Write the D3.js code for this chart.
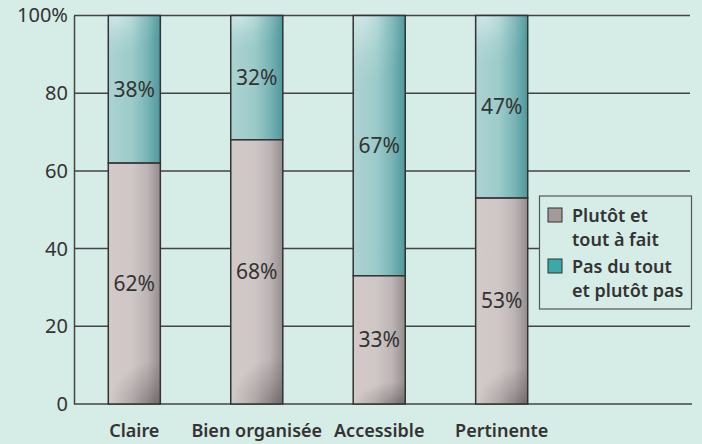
<!DOCTYPE html>
<html>
<head>
<meta charset="utf-8">
<script src="https://cdn.jsdelivr.net/npm/d3@7"></script>
<style>
  html, body { margin: 0; padding: 0; background: #d6ece6; }
  svg { display: block; }
  text { font-family: "Noto Sans", sans-serif; fill: #333; }
</style>
</head>
<body>
<div id="chart"></div>
<script>
// values
const categories = ["Claire", "Bien organisée", "Accessible", "Pertinente"];
const plutot_oui = [62, 68, 33, 53];
const plutot_non = [38, 32, 67, 47];
const y_ticks = [0, 20, 40, 60, 80, 100];
const legend_labels = [["Plutôt et", "tout à fait"], ["Pas du tout", "et plutôt pas"]];

const width = 702, height = 444;
const margin = {top: 15.5, left: 74, right: 12, bottom: 40};

const svg = d3.select("#chart").append("svg")
    .attr("width", width)
    .attr("height", height);

const defs = svg.append("defs");

// horizontal shading of the bars
function hgrad(id, stops) {
    const g = defs.append("linearGradient").attr("id", id)
        .attr("x1", 0).attr("x2", 1).attr("y1", 0).attr("y2", 0);
    stops.forEach(s => g.append("stop").attr("offset", s[0]).attr("stop-color", s[1]));
}
hgrad("grey_h", [[0, "#d3c9c9"], [0.45, "#cfc6c6"], [0.75, "#bdb5b5"], [1, "#958d8d"]]);
hgrad("teal_h", [[0, "#acd3d2"], [0.45, "#9ccbca"], [0.75, "#79b4b5"], [1, "#4e989d"]]);

// shadow in the bottom-right corner of grey bars
const gb = defs.append("radialGradient").attr("id", "grey_v")
    .attr("gradientUnits", "objectBoundingBox")
    .attr("cx", 0.9).attr("cy", 1.02).attr("r", 0.9)
    .attr("gradientTransform", "translate(0.9 1.02) scale(1 0.22) translate(-0.9 -1.02)");
gb.append("stop").attr("offset", 0).attr("stop-color", "#3a3333").attr("stop-opacity", 0.45);
gb.append("stop").attr("offset", 0.5).attr("stop-color", "#3a3333").attr("stop-opacity", 0.2);
gb.append("stop").attr("offset", 1).attr("stop-color", "#3a3333").attr("stop-opacity", 0);

// light in the top-left corner of teal bars
const tt = defs.append("radialGradient").attr("id", "teal_v")
    .attr("gradientUnits", "objectBoundingBox")
    .attr("cx", 0.15).attr("cy", 0).attr("r", 0.9)
    .attr("gradientTransform", "translate(0.15 0) scale(1 0.3) translate(-0.15 0)");
tt.append("stop").attr("offset", 0).attr("stop-color", "#fff").attr("stop-opacity", 0.45);
tt.append("stop").attr("offset", 0.6).attr("stop-color", "#fff").attr("stop-opacity", 0.1);
tt.append("stop").attr("offset", 1).attr("stop-color", "#fff").attr("stop-opacity", 0);

const y = d3.scaleLinear()
    .domain([0, 100])
    .range([404, margin.top]);

const x = d3.scaleBand()
    .domain(categories)
    .range([margin.left, 562])
    .paddingInner(0.575)
    .paddingOuter(0.28);

const data = categories.map((c, i) => ({cat: c, oui: plutot_oui[i], non: plutot_non[i]}));

// grid lines
svg.append("g")
    .selectAll("line")
    .data(y_ticks)
    .join("line")
    .attr("x1", margin.left)
    .attr("x2", d => d == 0 ? 692 : 690)
    .attr("y1", d => y(d))
    .attr("y2", d => y(d))
    .attr("stroke", "#444")
    .attr("stroke-width", 1.5);

// y axis
const yAxis = g => g
    .attr("transform", `translate(${margin.left},0)`)
    .call(d3.axisLeft(y).tickValues(y_ticks).tickSize(0).tickPadding(6)
        .tickFormat(d => d == 100 ? "100%" : d))
    .call(g => g.select(".domain").attr("stroke", "#444").attr("stroke-width", 1.5))
    .call(g => g.selectAll(".tick text")
        .attr("font-size", 20)
        .attr("font-family", "Noto Sans, sans-serif")
        .attr("fill", "#333"));
svg.append("g").call(yAxis);

// bars
const bars = svg.append("g").selectAll("g").data(data).join("g");

bars.append("rect")
    .attr("x", d => x(d.cat))
    .attr("y", d => y(100))
    .attr("width", x.bandwidth())
    .attr("height", d => y(d.oui) - y(100))
    .attr("fill", "url(#teal_h)");
bars.append("rect")
    .attr("x", d => x(d.cat))
    .attr("y", d => y(100))
    .attr("width", x.bandwidth())
    .attr("height", d => y(d.oui) - y(100))
    .attr("fill", "url(#teal_v)")
    .attr("stroke", "#333")
    .attr("stroke-width", 1.5);

bars.append("rect")
    .attr("x", d => x(d.cat))
    .attr("y", d => y(d.oui))
    .attr("width", x.bandwidth())
    .attr("height", d => y(0) - y(d.oui))
    .attr("fill", "url(#grey_h)");
bars.append("rect")
    .attr("x", d => x(d.cat))
    .attr("y", d => y(d.oui))
    .attr("width", x.bandwidth())
    .attr("height", d => y(0) - y(d.oui))
    .attr("fill", "url(#grey_v)")
    .attr("stroke", "#333")
    .attr("stroke-width", 1.5);

// labels in the bars
bars.append("text")
    .attr("x", d => x(d.cat) + x.bandwidth() / 2)
    .attr("y", d => (y(100) + y(d.oui)) / 2)
    .attr("dy", "0.35em")
    .attr("text-anchor", "middle")
    .attr("font-size", 21)
    .text(d => d.non + "%");
bars.append("text")
    .attr("x", d => x(d.cat) + x.bandwidth() / 2)
    .attr("y", d => (y(0) + y(d.oui)) / 2)
    .attr("dy", "0.35em")
    .attr("text-anchor", "middle")
    .attr("font-size", 21)
    .text(d => d.oui + "%");

// category labels
svg.append("g")
    .selectAll("text")
    .data(categories)
    .join("text")
    .attr("x", d => x(d) + x.bandwidth() / 2)
    .attr("y", 437)
    .attr("text-anchor", "middle")
    .attr("font-size", 18)
    .attr("font-weight", 600)
    .text(d => d);

// legend
const legend = svg.append("g");
legend.append("rect")
    .attr("x", 539.5).attr("y", 196)
    .attr("width", 152).attr("height", 113)
    .attr("fill", "#d6ece6")
    .attr("stroke", "#555")
    .attr("stroke-width", 1.2);

const swatch_fill = ["#a39b9b", "#3aa9a8"];
legend_labels.forEach((lines, i) => {
    const yy = 208 + i * 51;
    legend.append("rect")
        .attr("x", 548).attr("y", yy)
        .attr("width", 14).attr("height", 14)
        .attr("fill", swatch_fill[i])
        .attr("stroke", "#333")
        .attr("stroke-width", 1);
    lines.forEach((t, j) => {
        legend.append("text")
            .attr("x", 572)
            .attr("y", yy + 14 + j * 24)
            .attr("font-size", 18)
            .attr("font-weight", 600)
            .text(t);
    });
});
</script>
</body>
</html>
